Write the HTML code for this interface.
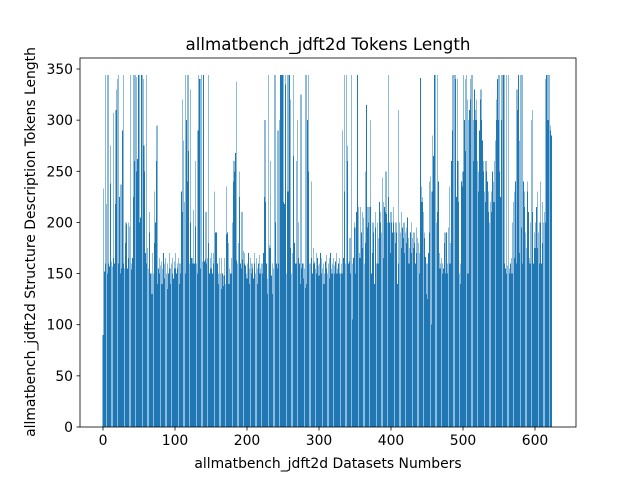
<!DOCTYPE html>
<html><head><meta charset="utf-8"><style>
body{margin:0;background:#fff;}
svg text{font-family:"DejaVu Sans","Liberation Sans",sans-serif;fill:#000;}
</style></head><body>
<svg id="chart" width="640" height="480" xmlns="http://www.w3.org/2000/svg">
<rect width="640" height="480" fill="#fff"/>
<g id="bars" shape-rendering="crispEdges"></g>
<g id="axes"></g>
<text x="328" y="50" font-size="16.7" text-anchor="middle">allmatbench_jdft2d Tokens Length</text>
<text x="328" y="468" font-size="13.9" text-anchor="middle">allmatbench_jdft2d Datasets Numbers</text>
<text transform="translate(35,242) rotate(-90)" font-size="13.9" text-anchor="middle">allmatbench_jdft2d Structure Description Tokens Length</text>
</svg>
<script>
const seg1=[90,233,152,344,160,218,150,344,160,157,238,275,162,157,165,307,160,218,310,330,340,344,160,225,150,237,155,290,160,344,155,180,200,198,155,165,200,196,344,154,160,165,225,344,260,344,342,250,262,344,344,200,205,344,344,344,340,275,250,170,344,160,175,155,190,210,150,150,130,170,150,230,180,200,260,295,140,155,150,165,158,162,140,155,170,145,160,165,150,135,160,150,170,155,140,160,165,150,145,162,155,170,150,160,155,165,140];
const seg2=[160,150,230,320,210,280,220,344,150,300,240,344,270,160,200,330,165,165,160,212,160,196,260,160,150,290,344,340,340,155,344,162,344,344,162,164,210,160,165,344,180,150,165,155,170,150,170,160,230,190,190,190,160,150,140,165,150,135,165,150,138,148,165,140,235,188,190,180,140,155,150,165,150,200,240,260,250,268,338,163,160,180,250,225,160,155,210,164,172,170,160,158,150,145,160,170,140,155,165,150,160,155,145,170,160,150,165,155,140,160,168,150];
const seg3=[155,160,150,160,170,225,300,220,160,130,145,344,178,175,260,148,160,130,155,344,344,200,160,155,290,160,300,344,344,344,344,344,220,218,344,335,150,344,230,344,344,175,320,150,170,265,344,180,160,160,260,300,200,165,160,140,325,155,160,160,145,155,136,344,140,300,344,250,160,160,240,165,150,175,160,162,155,170,150,165,158,148,160,170,150,165,155,160,140,150,162,168,155,150,160,145,165,170,155,150,160,165,150,158,162,170,150,155,160,150,165,150];
const seg4=[160,150,290,165,344,230,160,344,275,260,160,162,185,150,344,160,105,165,200,195,150,210,344,344,215,170,165,215,190,175,210,205,160,250,180,315,195,215,200,215,300,215,150,170,200,190,140,195,210,160,200,160,185,220,210,200,190,244,220,165,215,210,250,208,200,344,225,200,170,210,200,190,215,200,190,180,200,190,140,310,160,200,190,175,210,195,185,200,170,190,180,195,205,185,160,175,190,170,200,185,175,190,180,160,195,170,185,180,150,170];
const seg5=[341,235,220,225,210,185,190,166,130,160,125,170,190,240,245,100,230,285,265,344,344,344,200,344,210,240,170,155,160,165,150,160,155,180,190,150,190,150,160,195,235,160,180,260,290,344,344,344,340,344,225,340,260,220,150,160,140,240,235,250,344,300,340,270,344,320,150,300,310,320,340,344,344,260,300,330,310,300,320,260,230,250,290,320,330,300,280,260,250,230,220,260,250,240,230,210,200,220,210,230,250,240,220,260,280,300,320,340];
const seg6=[300,344,250,225,300,344,344,344,344,160,155,344,150,158,344,150,155,160,165,150,200,220,230,165,240,160,330,310,344,280,170,344,195,344,160,240,230,215,190,175,240,230,210,165,160,200,300,210,310,160,190,175,200,215,230,175,190,160,200,240,160,180,220,200,210,200,340,344,344,300,344,344,290,295,285];
const values=[].concat(seg1,seg2,seg3,seg4,seg5,seg6);
const yTicks=[0,50,100,150,200,250,300,350];
const xTicks=[0,100,200,300,400,500,600];

const NS="http://www.w3.org/2000/svg";
const L=80,R=576,T=58,B=427;
const xs=v=>103+(v)*(432/600);
const ys=v=>B-v*(358/350);
const bars=document.getElementById('bars');
values.forEach((v,i)=>{
  const r=document.createElementNS(NS,'rect');
  
  
  r.setAttribute('x',xs(i-0.45));
  r.setAttribute('width',0.9*432/600);
  r.setAttribute('y',ys(v));
  r.setAttribute('height',B-ys(v));
  r.setAttribute('fill','#1f77b4');
  bars.appendChild(r);
});
const ax=document.getElementById('axes');
function add(tag,attrs,txt){const e=document.createElementNS(NS,tag);for(const k in attrs)e.setAttribute(k,attrs[k]);if(txt!==undefined)e.textContent=txt;ax.appendChild(e);return e;}
const frame=add('rect',{x:L,y:T,width:R-L,height:B-T,fill:'none',stroke:'#000','stroke-width':0.8});


yTicks.forEach(t=>{
  const y=ys(t);
  const l=add('line',{x1:L-3.5,x2:L,y1:y,y2:y,stroke:'#000','stroke-width':0.8});
  
  
  const tx=add('text',{x:L-7,y:y+5,'font-size':13.9,'text-anchor':'end'},String(t));
  
  
});
xTicks.forEach(t=>{
  const x=xs(t);
  const l=add('line',{x1:x,x2:x,y1:B,y2:B+3.5,stroke:'#000','stroke-width':0.8});
  
  
  const tx=add('text',{x:x,y:B+18,'font-size':13.9,'text-anchor':'middle'},String(t));
  
  
});
</script>
</body></html>
